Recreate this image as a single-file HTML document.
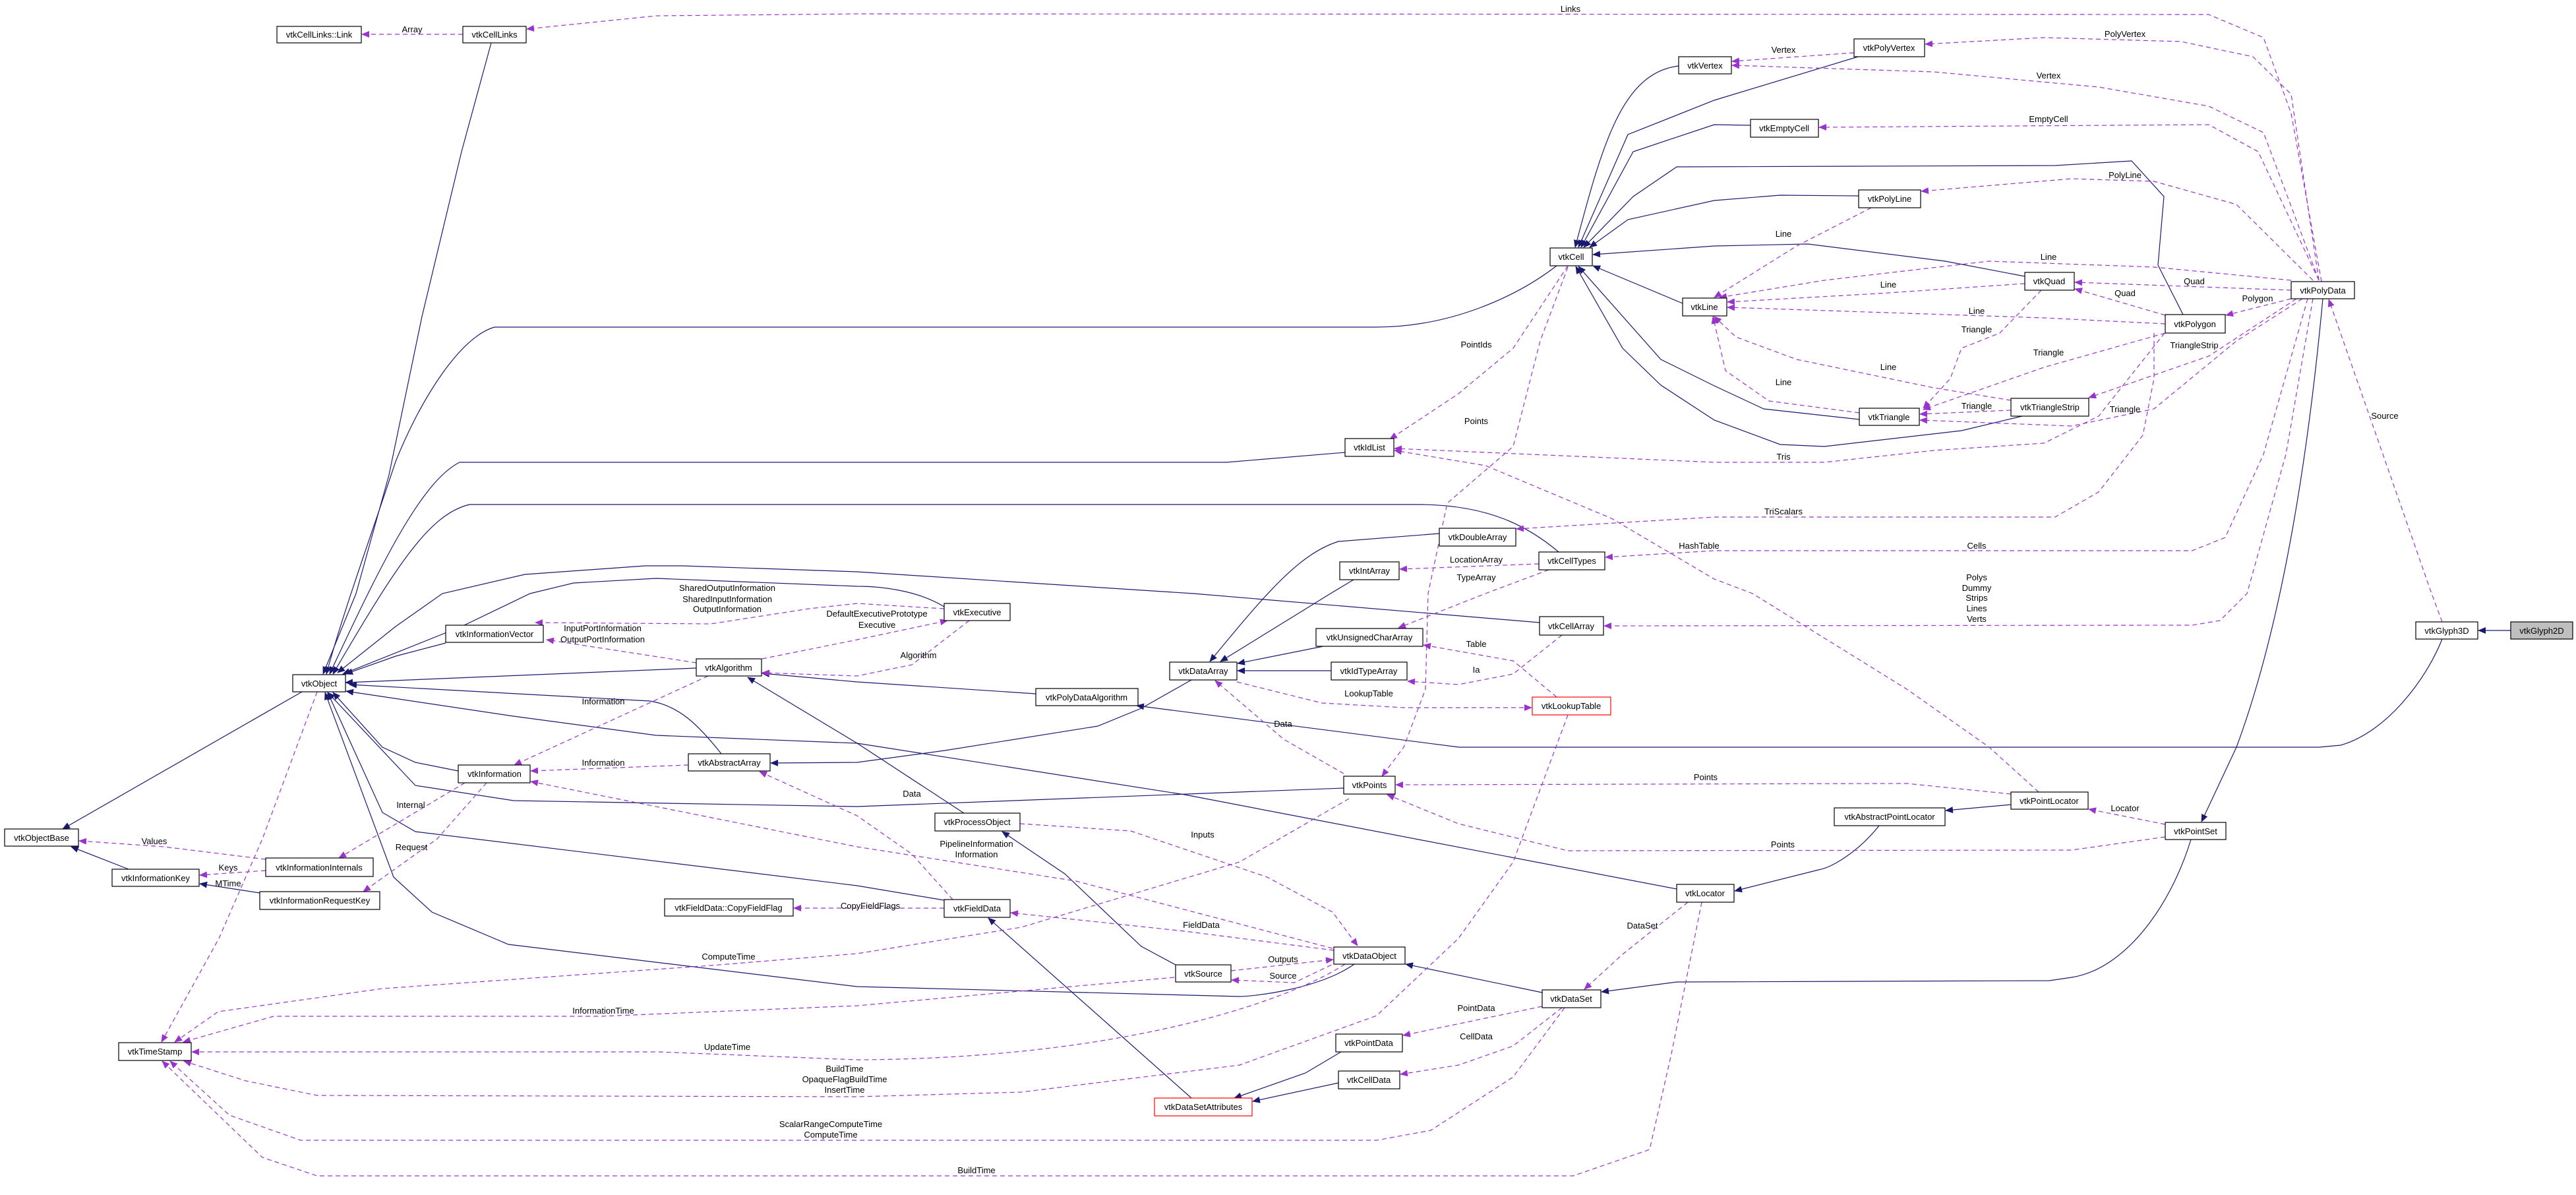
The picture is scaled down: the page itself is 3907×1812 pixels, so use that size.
<!DOCTYPE html>
<html><head><meta charset="utf-8"><style>
html,body{margin:0;padding:0;background:#fff;}
svg{display:block;}
text{font-family:"Liberation Sans",Arial,sans-serif;font-size:13px;fill:#000;}
.n{fill:#fff;stroke:#000;stroke-width:1.2;}
.s{fill:none;stroke:#191970;stroke-width:1.2;}
.d{fill:none;stroke:#9a32cd;stroke-width:1.2;stroke-dasharray:7,5;}
</style></head><body>
<svg width="3907" height="1812" viewBox="0 0 3907 1812" xmlns="http://www.w3.org/2000/svg">
<defs>
<marker id="as" markerUnits="userSpaceOnUse" markerWidth="12" markerHeight="10" refX="11" refY="5" orient="auto"><path d="M0,0 L12,5 L0,10 z" fill="#191970"/></marker>
<marker id="ad" markerUnits="userSpaceOnUse" markerWidth="12" markerHeight="10" refX="11" refY="5" orient="auto"><path d="M0,0 L12,5 L0,10 z" fill="#9a32cd"/></marker>
</defs>

<!-- solid inheritance edges -->
<g class="s" marker-end="url(#as)">
<path d="M458,1049 L95,1257"/>
<path d="M195,1318 L108,1284"/>
<path d="M745,65 L700,230 L640,480 L590,720 L540,900 L490,1022"/>
<path d="M2361,403 C2300,450 2200,496 2087,496 L750,496 C700,510 640,600 600,700 C560,820 520,930 495,1022"/>
<path d="M2040,686 L1860,701 L697,701 C640,730 580,850 500,1022"/>
<path d="M2364,837 C2320,800 2260,765 2150,765 L712,765 C650,780 600,860 505,1022"/>
<path d="M2335,944 L1810,900 L1300,867 L1036,858 L978,858 L796,871 L671,900 L600,950 L512,1020"/>
<path d="M1432,920 C1400,900 1350,889 1300,889 L995,877 L870,884 L804,900 L700,950 L520,1022"/>
<path d="M676,975 L600,995 L524,1022"/>
<path d="M1056,1013 L524,1035"/>
<path d="M1094,1143 C1060,1100 1030,1070 986,1063 L530,1038"/>
<path d="M2543,1348 L1797,1205 L1300,1127 L995,1115 L779,1086 L525,1048"/>
<path d="M695,1169 L630,1156 L580,1133 L505,1050"/>
<path d="M2038,1195 L1300,1223 L779,1214 L630,1191 L497,1050"/>
<path d="M1432,1365 L1300,1343 L630,1261 L580,1232 L497,1050"/>
<path d="M2054,1462 C2000,1500 1900,1511 1880,1511 L1300,1496 L771,1432 L655,1383 L597,1330 L493,1050"/>
<path d="M1462,1233 L1300,1127 L1134,1027"/>
<path d="M1783,1463 L1731,1435 L1615,1325 L1520,1261"/>
<path d="M1571,1052 L1300,1034 L1156,1021"/>
<path d="M1807,1031 L1731,1074 L1665,1101 L1433,1138 L1300,1156 L1169,1157"/>
<path d="M2183,809 L2030,821 C1970,840 1920,900 1835,1003"/>
<path d="M2053,879 L2018,900 L1851,1003"/>
<path d="M2007,980 L1877,1006"/>
<path d="M2019,1017 L1877,1017"/>
<path d="M3704,969 C3680,1030 3620,1110 3550,1130 L3517,1133 L2213,1133 L1724,1070"/>
<path d="M3808,956 L3759,956"/>
<path d="M3523,453 C3500,700 3460,950 3392,1133 L3339,1246"/>
<path d="M3323,1273 C3290,1380 3220,1470 3142,1482 L3108,1487 L2543,1489 L2429,1504"/>
<path d="M2339,1505 L2132,1462"/>
<path d="M2850,1252 C2820,1290 2780,1315 2758,1319 L2631,1351"/>
<path d="M3050,1220 L2951,1229"/>
<path d="M2034,1595 L1980,1627 L1872,1665"/>
<path d="M2030,1642 L1900,1670"/>
<path d="M1807,1665 L1499,1392"/>
<path d="M2546,100 C2460,110 2430,220 2389,375"/>
<path d="M2818,86 L2600,152 L2469,204 L2394,375"/>
<path d="M2655,190 L2600,189 L2477,230 L2398,375"/>
<path d="M3311,477 L3273,402 L3282,298 L3233,244 L3117,251 L2543,253 L2477,298 L2402,375"/>
<path d="M2819,297 L2700,296 L2600,304 L2469,333 L2411,375"/>
<path d="M3071,419 L2950,396 L2742,370 L2600,373 L2416,386"/>
<path d="M2552,460 L2416,403"/>
<path d="M2820,636 L2675,620 L2600,585 L2519,545 L2394,404"/>
<path d="M3067,631 L2975,653 L2767,677 L2700,674 L2600,637 L2519,584 L2461,528 L2390,404"/>
</g>

<!-- dashed association edges -->
<g class="d" marker-end="url(#ad)">
<path d="M702,52 L549,52"/>
<path d="M3521,427 L3475,172 L3433,57 L3350,22 L1300,21 L995,24 L799,44"/>
<path d="M3517,425 L3475,143 L3417,86 L3308,63 L3100,57 L2920,67"/>
<path d="M2812,80 L2627,93"/>
<path d="M3517,425 L3433,201 L3350,161 L3183,132 L2933,109 L2627,99"/>
<path d="M3517,425 L3425,230 L3350,189 L2759,193"/>
<path d="M3508,425 L3392,310 L3267,275 L3142,271 L2914,290"/>
<path d="M2838,315 L2725,373 L2600,451"/>
<path d="M3475,425 L3267,405 L3017,396 L2767,425 L2608,451"/>
<path d="M3071,430 L2850,445 L2620,458"/>
<path d="M3475,440 L3147,428"/>
<path d="M3284,478 L3147,438"/>
<path d="M3475,453 L3376,478"/>
<path d="M3284,491 L3100,482 L2620,466"/>
<path d="M3096,440 L3033,505 L2975,528 L2958,574 L2917,619"/>
<path d="M3284,505 L3100,557 L2917,621"/>
<path d="M3483,453 L3350,540 L3168,603"/>
<path d="M3050,607 L2933,588 L2725,545 L2633,511 L2600,480"/>
<path d="M2820,626 L2683,608 L2617,562 L2598,480"/>
<path d="M3050,622 L2912,628"/>
<path d="M3492,453 L3392,517 L3267,620 L3142,646 L2912,637"/>
<path d="M3283,505 L3183,631 L3100,672 L2933,683 L2767,701 L2600,701 L2115,680"/>
<path d="M3267,505 L3267,574 L3250,660 L3183,746 L3117,784 L2600,784 L2300,802"/>
<path d="M3500,453 L3433,689 L3375,815 L3325,835 L2600,835 L2435,845"/>
<path d="M3508,453 L3467,689 L3408,900 L3367,941 L3325,948 L2433,949"/>
<path d="M3704,943 L3688,900 L3532,454"/>
<path d="M3092,1201 L3017,1133 L2892,1045 L2658,900 L2600,878 L2444,786 L2253,706 L2115,683"/>
<path d="M3050,1204 L2892,1188 L2117,1190"/>
<path d="M3284,1250 L3168,1227"/>
<path d="M3284,1269 L3142,1289 L2378,1290 L2212,1249 L2104,1205"/>
<path d="M2378,403 L2295,528 L2212,597 L2108,666"/>
<path d="M2378,405 L2336,517 L2295,677 L2195,763 L2166,900 L2162,1045 L2129,1133 L2096,1177"/>
<path d="M2334,855 L2123,863"/>
<path d="M2349,864 L2253,900 L2121,952"/>
<path d="M2361,1057 L2295,1002 L2159,978"/>
<path d="M2369,963 L2295,1022 L2212,1038 L2135,1033"/>
<path d="M1876,1034 L2005,1066 L2129,1073 L2323,1073"/>
<path d="M2038,1173 L1947,1121 L1843,1032"/>
<path d="M2378,1084 L2295,1307 L2212,1423 L2088,1540 L1880,1615 L1549,1656 L1300,1663 L481,1661 L373,1639 L279,1609"/>
<path d="M2040,1462 C1950,1520 1700,1605 1300,1607 L1000,1595 L291,1595"/>
<path d="M1781,1482 L1300,1525 L912,1541 L415,1541 L278,1580"/>
<path d="M2046,1211 L1880,1307 L1549,1406 L1300,1446 L1078,1464 L580,1499 L331,1534 L265,1580"/>
<path d="M2373,1528 L2295,1633 L2170,1714 L2088,1729 L456,1729 L348,1691 L258,1609"/>
<path d="M2581,1368 L2535,1598 L2502,1743 L2386,1783 L481,1783 L398,1755 L246,1609"/>
<path d="M481,1049 L398,1272 L332,1423 L245,1580"/>
<path d="M403,1303 L249,1284 L120,1275"/>
<path d="M403,1320 L303,1327"/>
<path d="M705,1187 L514,1301"/>
<path d="M738,1187 L663,1272 L551,1352"/>
<path d="M1074,1025 L780,1160"/>
<path d="M1044,1160 L805,1169"/>
<path d="M2021,1438 L1632,1336 L1300,1284 L805,1185"/>
<path d="M1056,1005 L829,970"/>
<path d="M1432,923 L1300,915 L1227,923 L1078,946 L812,944"/>
<path d="M1156,999 L1300,970 L1437,941"/>
<path d="M1470,941 L1383,1008 L1300,1025 L1156,1020"/>
<path d="M1445,1364 L1383,1295 L1300,1237 L1152,1170"/>
<path d="M1432,1377 L1204,1377"/>
<path d="M2023,1441 L1797,1412 L1533,1384"/>
<path d="M1547,1249 L1715,1260 L1922,1330 L2021,1383 L2059,1434"/>
<path d="M1867,1472 L2022,1455"/>
<path d="M2030,1458 L1963,1490 L1868,1486"/>
<path d="M2560,1368 L2461,1447 L2403,1500"/>
<path d="M2339,1526 L2128,1570"/>
<path d="M2369,1528 L2295,1586 L2212,1615 L2124,1629"/>
</g>
<path class="s" d="M394,1354 L303,1340" marker-end="url(#as)"/>

<!-- nodes -->
<g>
<rect class="n" x="420" y="40" width="128" height="25"/><text x="484" y="57" text-anchor="middle">vtkCellLinks::Link</text>
<rect class="n" x="702" y="40" width="96" height="25"/><text x="750" y="57" text-anchor="middle">vtkCellLinks</text>
<rect class="n" x="444" y="1023" width="80" height="26"/><text x="484" y="1041" text-anchor="middle">vtkObject</text>
<rect class="n" x="676" y="948" width="148" height="26"/><text x="750" y="966" text-anchor="middle">vtkInformationVector</text>
<rect class="n" x="1056" y="999" width="99" height="26"/><text x="1105" y="1017" text-anchor="middle">vtkAlgorithm</text>
<rect class="n" x="1044" y="1143" width="124" height="26"/><text x="1106" y="1161" text-anchor="middle">vtkAbstractArray</text>
<rect class="n" x="695" y="1160" width="109" height="27"/><text x="750" y="1178" text-anchor="middle">vtkInformation</text>
<rect class="n" x="7" y="1257" width="112" height="26"/><text x="63" y="1275" text-anchor="middle">vtkObjectBase</text>
<rect class="n" x="170" y="1318" width="132" height="26"/><text x="236" y="1336" text-anchor="middle">vtkInformationKey</text>
<rect class="n" x="403" y="1301" width="163" height="28"/><text x="484" y="1320" text-anchor="middle">vtkInformationInternals</text>
<rect class="n" x="394" y="1352" width="182" height="27"/><text x="485" y="1370" text-anchor="middle">vtkInformationRequestKey</text>
<rect class="n" x="1008" y="1363" width="195" height="26"/><text x="1105" y="1381" text-anchor="middle">vtkFieldData::CopyFieldFlag</text>
<rect class="n" x="180" y="1581" width="110" height="27"/><text x="235" y="1599" text-anchor="middle">vtkTimeStamp</text>
<rect class="n" x="2546" y="86" width="80" height="26"/><text x="2586" y="104" text-anchor="middle">vtkVertex</text>
<rect class="n" x="2351" y="376" width="64" height="27"/><text x="2383" y="394" text-anchor="middle">vtkCell</text>
<rect class="n" x="2552" y="452" width="67" height="27"/><text x="2585" y="470" text-anchor="middle">vtkLine</text>
<rect class="n" x="2040" y="665" width="74" height="27"/><text x="2077" y="683" text-anchor="middle">vtkIdList</text>
<rect class="n" x="2183" y="801" width="116" height="27"/><text x="2241" y="819" text-anchor="middle">vtkDoubleArray</text>
<rect class="n" x="2334" y="837" width="100" height="27"/><text x="2384" y="855" text-anchor="middle">vtkCellTypes</text>
<rect class="n" x="2032" y="852" width="90" height="27"/><text x="2077" y="870" text-anchor="middle">vtkIntArray</text>
<rect class="n" x="1432" y="915" width="100" height="26"/><text x="1482" y="933" text-anchor="middle">vtkExecutive</text>
<rect class="n" x="2335" y="935" width="97" height="28"/><text x="2383" y="954" text-anchor="middle">vtkCellArray</text>
<rect class="n" x="1996" y="953" width="162" height="27"/><text x="2077" y="971" text-anchor="middle">vtkUnsignedCharArray</text>
<rect class="n" x="1774" y="1004" width="102" height="27"/><text x="1825" y="1022" text-anchor="middle">vtkDataArray</text>
<rect class="n" x="2019" y="1004" width="115" height="27"/><text x="2076" y="1022" text-anchor="middle">vtkIdTypeArray</text>
<rect class="n" x="1571" y="1044" width="155" height="26"/><text x="1648" y="1062" text-anchor="middle">vtkPolyDataAlgorithm</text>
<rect class="n" x="2324" y="1057" width="119" height="27" style="stroke:#ff0000"/><text x="2383" y="1075" text-anchor="middle">vtkLookupTable</text>
<rect class="n" x="2038" y="1177" width="78" height="27"/><text x="2077" y="1195" text-anchor="middle">vtkPoints</text>
<rect class="n" x="1418" y="1233" width="129" height="27"/><text x="1482" y="1251" text-anchor="middle">vtkProcessObject</text>
<rect class="n" x="1432" y="1364" width="100" height="27"/><text x="1482" y="1382" text-anchor="middle">vtkFieldData</text>
<rect class="n" x="2023" y="1436" width="108" height="26"/><text x="2077" y="1454" text-anchor="middle">vtkDataObject</text>
<rect class="n" x="1783" y="1463" width="84" height="26"/><text x="1825" y="1481" text-anchor="middle">vtkSource</text>
<rect class="n" x="2543" y="1341" width="87" height="27"/><text x="2586" y="1359" text-anchor="middle">vtkLocator</text>
<rect class="n" x="2339" y="1501" width="89" height="27"/><text x="2383" y="1519" text-anchor="middle">vtkDataSet</text>
<rect class="n" x="2026" y="1568" width="101" height="27"/><text x="2076" y="1586" text-anchor="middle">vtkPointData</text>
<rect class="n" x="2030" y="1624" width="93" height="27"/><text x="2076" y="1642" text-anchor="middle">vtkCellData</text>
<rect class="n" x="1751" y="1665" width="148" height="27" style="stroke:#ff0000"/><text x="1825" y="1683" text-anchor="middle">vtkDataSetAttributes</text>
<rect class="n" x="2812" y="59" width="107" height="27"/><text x="2865" y="77" text-anchor="middle">vtkPolyVertex</text>
<rect class="n" x="2655" y="181" width="103" height="27"/><text x="2706" y="199" text-anchor="middle">vtkEmptyCell</text>
<rect class="n" x="2819" y="288" width="94" height="27"/><text x="2866" y="306" text-anchor="middle">vtkPolyLine</text>
<rect class="n" x="3071" y="413" width="75" height="27"/><text x="3108" y="431" text-anchor="middle">vtkQuad</text>
<rect class="n" x="3475" y="427" width="96" height="26"/><text x="3523" y="445" text-anchor="middle">vtkPolyData</text>
<rect class="n" x="3284" y="477" width="91" height="28"/><text x="3329" y="496" text-anchor="middle">vtkPolygon</text>
<rect class="n" x="3050" y="604" width="118" height="27"/><text x="3109" y="622" text-anchor="middle">vtkTriangleStrip</text>
<rect class="n" x="2820" y="619" width="91" height="26"/><text x="2865" y="637" text-anchor="middle">vtkTriangle</text>
<rect class="n" x="3664" y="943" width="94" height="26"/><text x="3711" y="961" text-anchor="middle">vtkGlyph3D</text>
<rect x="3808" y="943" width="94" height="26" style="fill:#bfbfbf;stroke:#000;stroke-width:1.2"/><text x="3855" y="961" text-anchor="middle">vtkGlyph2D</text>
<rect class="n" x="3050" y="1201" width="117" height="26"/><text x="3108" y="1219" text-anchor="middle">vtkPointLocator</text>
<rect class="n" x="2782" y="1225" width="168" height="27"/><text x="2866" y="1243" text-anchor="middle">vtkAbstractPointLocator</text>
<rect class="n" x="3284" y="1247" width="92" height="26"/><text x="3330" y="1265" text-anchor="middle">vtkPointSet</text>
</g>

<!-- edge labels -->
<g text-anchor="middle">
<text x="625" y="49">Array</text>
<text x="2382" y="18">Links</text>
<text x="3223" y="56">PolyVertex</text>
<text x="2705" y="80">Vertex</text>
<text x="3107" y="119">Vertex</text>
<text x="3107" y="185">EmptyCell</text>
<text x="3223" y="270">PolyLine</text>
<text x="2705" y="359">Line</text>
<text x="3107" y="394">Line</text>
<text x="2864" y="436">Line</text>
<text x="3328" y="431">Quad</text>
<text x="3223" y="449">Quad</text>
<text x="3424" y="457">Polygon</text>
<text x="2998" y="476">Line</text>
<text x="2998" y="504">Triangle</text>
<text x="3328" y="528">TriangleStrip</text>
<text x="3107" y="539">Triangle</text>
<text x="2864" y="561">Line</text>
<text x="2705" y="584">Line</text>
<text x="2998" y="620">Triangle</text>
<text x="3223" y="625">Triangle</text>
<text x="2705" y="697">Tris</text>
<text x="2705" y="780">TriScalars</text>
<text x="2998" y="832">Cells</text>
<text x="2998" y="880">Polys</text>
<text x="2998" y="896">Dummy</text>
<text x="2998" y="911">Strips</text>
<text x="2998" y="927">Lines</text>
<text x="2998" y="943">Verts</text>
<text x="3617" y="635">Source</text>
<text x="2239" y="527">PointIds</text>
<text x="2239" y="643">Points</text>
<text x="2239" y="853">LocationArray</text>
<text x="2239" y="880">TypeArray</text>
<text x="2577" y="832">HashTable</text>
<text x="2239" y="981">Table</text>
<text x="2239" y="1020">Ia</text>
<text x="2076" y="1056">LookupTable</text>
<text x="1946" y="1102">Data</text>
<text x="2587" y="1183">Points</text>
<text x="2704" y="1285">Points</text>
<text x="3223" y="1230">Locator</text>
<text x="1824" y="1270">Inputs</text>
<text x="1481" y="1284">PipelineInformation</text>
<text x="1481" y="1300">Information</text>
<text x="1822" y="1407">FieldData</text>
<text x="1946" y="1459">Outputs</text>
<text x="1946" y="1484">Source</text>
<text x="2491" y="1408">DataSet</text>
<text x="2239" y="1533">PointData</text>
<text x="2239" y="1576">CellData</text>
<text x="1481" y="1779">BuildTime</text>
<text x="1103" y="896">SharedOutputInformation</text>
<text x="1103" y="913">SharedInputInformation</text>
<text x="1103" y="928">OutputInformation</text>
<text x="1330" y="935">DefaultExecutivePrototype</text>
<text x="1330" y="952">Executive</text>
<text x="914" y="957">InputPortInformation</text>
<text x="914" y="974">OutputPortInformation</text>
<text x="1393" y="998">Algorithm</text>
<text x="915" y="1068">Information</text>
<text x="915" y="1161">Information</text>
<text x="1383" y="1208">Data</text>
<text x="623" y="1225">Internal</text>
<text x="624" y="1289">Request</text>
<text x="234" y="1280">Values</text>
<text x="346" y="1320">Keys</text>
<text x="346" y="1344">MTime</text>
<text x="1320" y="1378">CopyFieldFlags</text>
<text x="1105" y="1455">ComputeTime</text>
<text x="915" y="1537">InformationTime</text>
<text x="1103" y="1592">UpdateTime</text>
<text x="1281" y="1625">BuildTime</text>
<text x="1281" y="1641">OpaqueFlagBuildTime</text>
<text x="1281" y="1657">InsertTime</text>
<text x="1260" y="1709">ScalarRangeComputeTime</text>
<text x="1260" y="1725">ComputeTime</text>
</g>
</svg>
</body></html>
